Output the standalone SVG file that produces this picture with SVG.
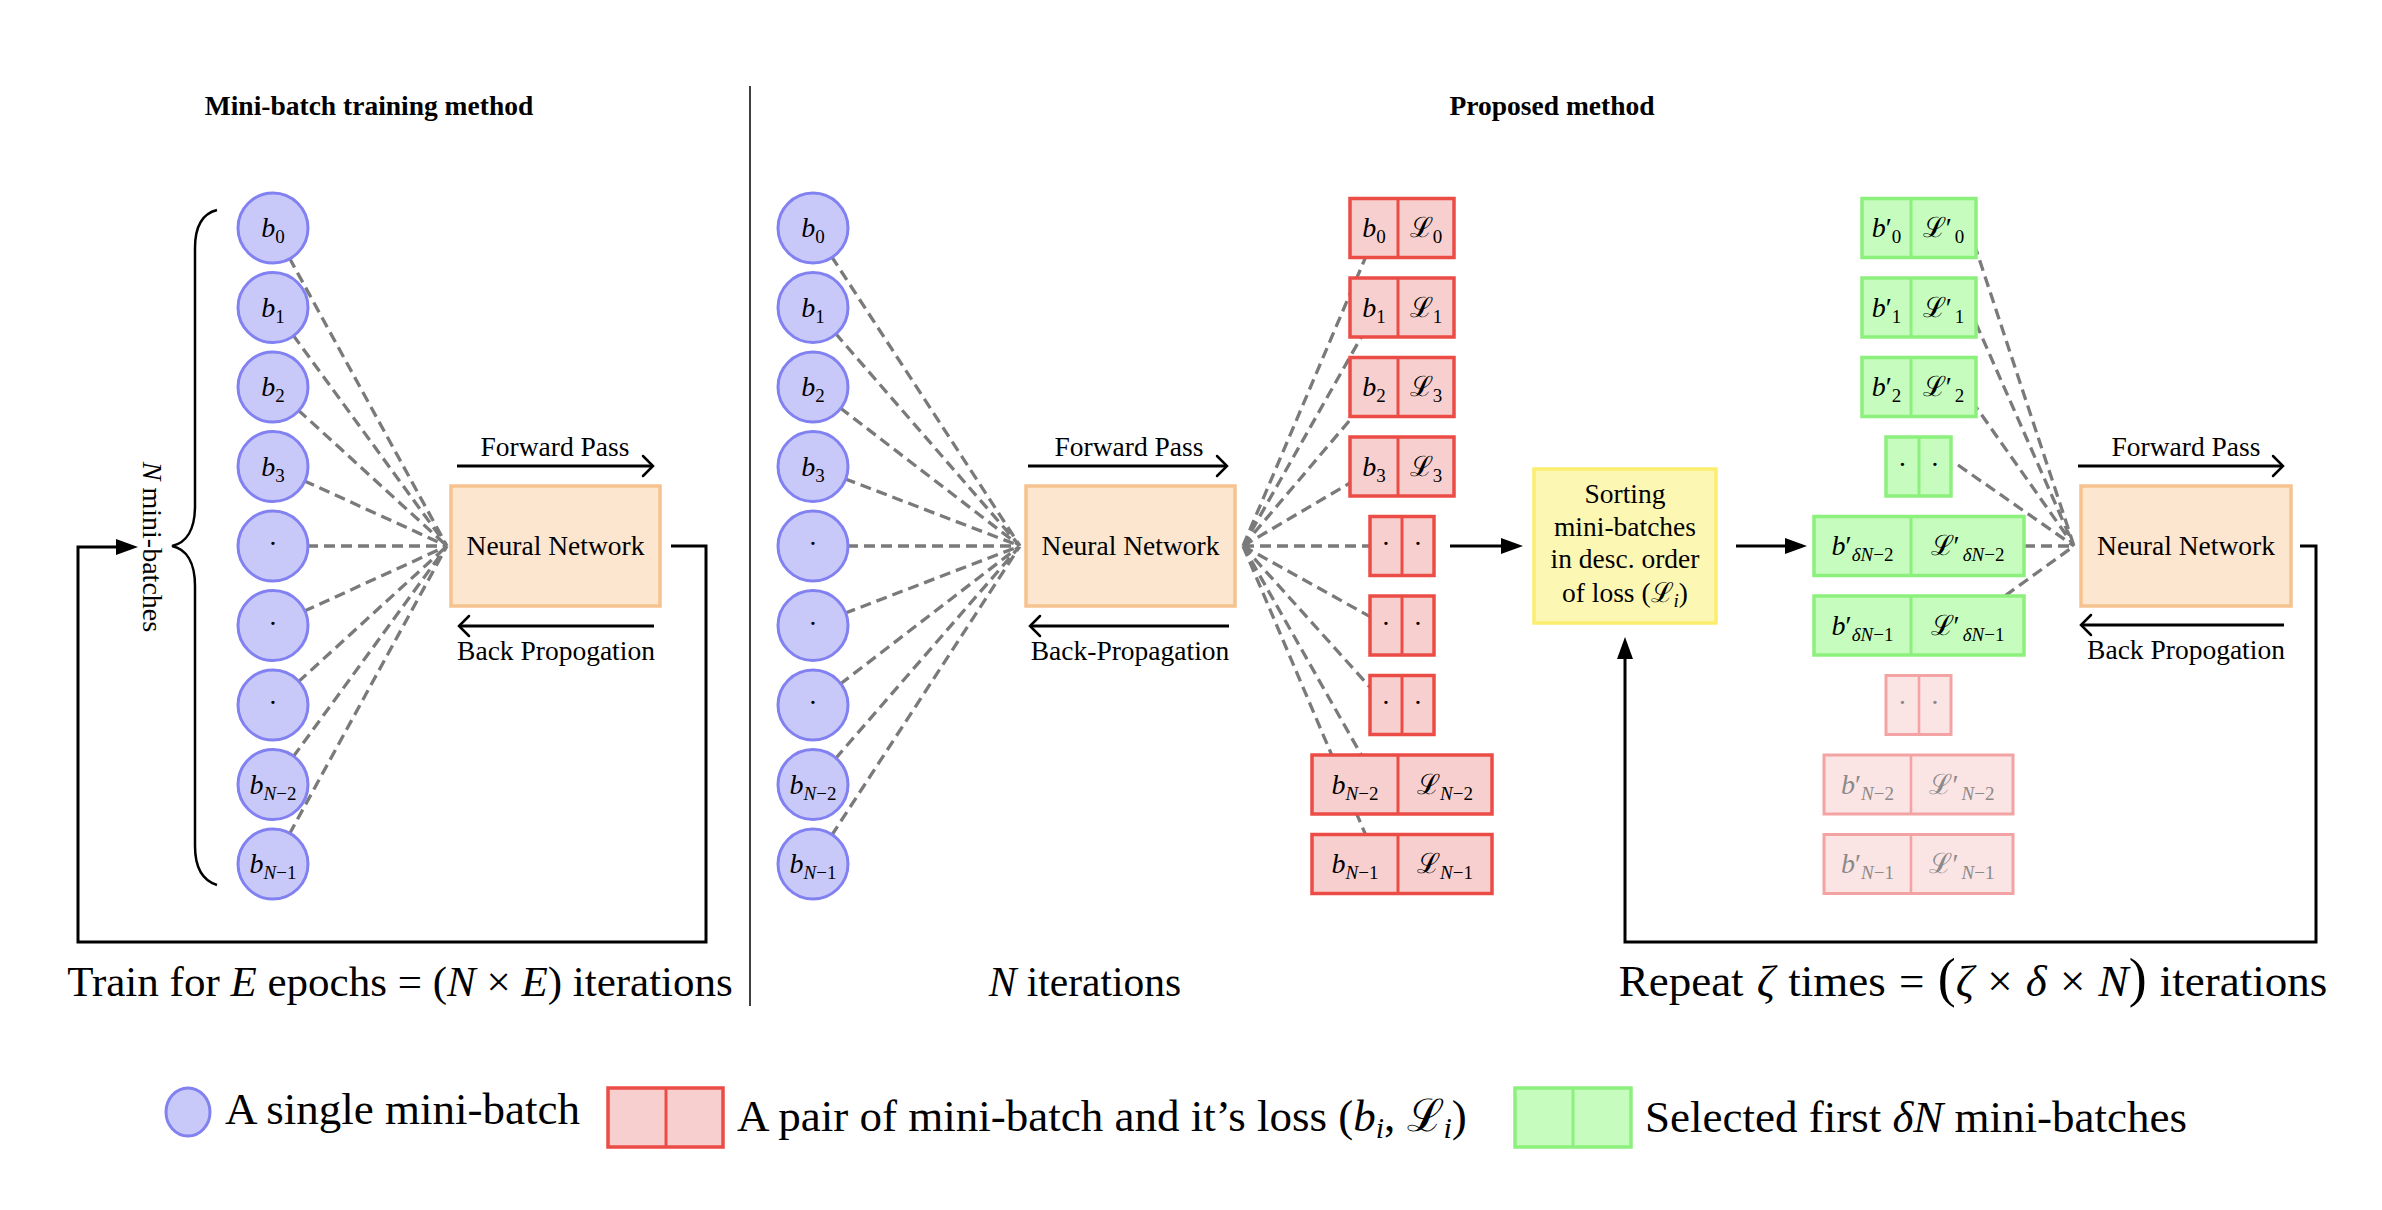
<svg xmlns="http://www.w3.org/2000/svg" width="2382" height="1210" viewBox="0 0 2382 1210">
<style>
.t{font-family:"Liberation Serif","DejaVu Serif",serif;fill:#000}
.lab{font-size:27.5px;text-anchor:middle}
.cl{font-size:28px;text-anchor:middle}
.sb{font-size:19px}
.i{font-style:italic}
.ttl{font-size:27.5px;font-weight:bold;text-anchor:middle}
.big{font-size:43px}
.lg{font-size:45px}
.mb{fill:#c9c9f9;stroke:#8181f1;stroke-width:3}
.nn{fill:#fce6d0;stroke:#f6c28e;stroke-width:3.5}
.rd{fill:#f7cfcf;stroke:#ec4c46;stroke-width:3.5}
.rdl{stroke:#ec4c46;stroke-width:3}
.gr{fill:#c6fcbd;stroke:#8cf07c;stroke-width:3.5}
.grl{stroke:#8cf07c;stroke-width:3}
.fr{fill:#fbe4e4;stroke:#f3a3a3;stroke-width:3}
.frl{stroke:#f3a3a3;stroke-width:2.5}
.ft{fill:#8a8a8a}
.yl{fill:#fdf7b4;stroke:#fbee6e;stroke-width:3.5}
.dash{stroke:#7a7a7a;stroke-width:3.3;stroke-dasharray:11 6;fill:none}
.ln{stroke:#000;stroke-width:3;fill:none}
</style>
<defs>
<marker id="to" markerUnits="userSpaceOnUse" viewBox="-13 -13 16 26" refX="0" refY="0" markerWidth="16" markerHeight="26" orient="auto" overflow="visible"><path d="M-10,-10 Q-3,-3 0,0 Q-3,3 -10,10" stroke="#000" stroke-width="2.5" fill="none" stroke-linecap="round"/></marker>
<marker id="lx" markerUnits="userSpaceOnUse" viewBox="-12 -9 24 18" refX="-12" refY="0" markerWidth="24" markerHeight="18" orient="auto" overflow="visible"><path d="M-12,-8 L10,0 L-12,8 Z" fill="#000"/></marker>
</defs>

<!-- titles & divider -->
<text class="t ttl" x="369" y="115">Mini-batch training method</text>
<text class="t ttl" x="1552" y="115">Proposed method</text>
<line x1="750" y1="86" x2="750" y2="1006" stroke="#000" stroke-width="1.5"/>

<g id="connectors">
  <!-- left fan -->
  <path class="dash" d="M273,228 L447,546 M273,307.5 L447,546 M273,387 L447,546 M273,466.5 L447,546 M273,546 L447,546 M273,625.5 L447,546 M273,705 L447,546 M273,784.5 L447,546 M273,864 L447,546"/>
  <!-- middle left fan -->
  <path class="dash" d="M813,228 L1020,546 M813,307.5 L1020,546 M813,387 L1020,546 M813,466.5 L1020,546 M813,546 L1020,546 M813,625.5 L1020,546 M813,705 L1020,546 M813,784.5 L1020,546 M813,864 L1020,546"/>
  <!-- middle right fan -->
  <path class="dash" d="M1243,546 L1378,228 M1243,546 L1378,307.5 M1243,546 L1378,387 M1243,546 L1378,466.5 M1243,546 L1386,546 M1243,546 L1386,625.5 M1243,546 L1386,705 M1243,546 L1378,784.5 M1243,546 L1378,864"/>
  <!-- green fan -->
  <path class="dash" d="M1969,228 L2074,546 M1969,307.5 L2074,546 M1962,387 L2074,546 M1958,465 L2074,546 M2024,546 L2074,546 M1964,625.5 L2074,546"/>
  <!-- forward / back arrows -->
  <path class="ln" d="M457,466 H653" marker-end="url(#to)"/>
  <path class="ln" d="M654,626 H459" marker-end="url(#to)"/>
  <path class="ln" d="M1028,466 H1227" marker-end="url(#to)"/>
  <path class="ln" d="M1229,626 H1030" marker-end="url(#to)"/>
  <path class="ln" d="M2078,466 H2283" marker-end="url(#to)"/>
  <path class="ln" d="M2284,625 H2081" marker-end="url(#to)"/>
  <!-- loops and flow arrows -->
  <path class="ln" d="M671,546 H706 V942 H78 V547 H116" marker-end="url(#lx)"/>
  <path class="ln" d="M1450,546 H1501" marker-end="url(#lx)"/>
  <path class="ln" d="M1736,546 H1785" marker-end="url(#lx)"/>
  <path class="ln" d="M2300,546 H2316 V942 H1625 V659" marker-end="url(#lx)"/>
</g>

<!-- brace -->
<g id="brace">
  <path d="M217,210 C201,214 195,228 195,248 L195,506 C195,530 186,543 172,546 C186,549 195,562 195,586 L195,846 C195,866 201,880 217,885" stroke="#000" stroke-width="2.5" fill="none"/>
  <text class="t" font-size="28" text-anchor="middle" transform="translate(152,547) rotate(90)" y="9"><tspan class="i">N</tspan> mini-batches</text>
</g>

<!-- left circles -->
<g id="L0"><circle class="mb" cx="273" cy="228" r="35"/><text class="t cl" x="273" y="237"><tspan class="i">b</tspan><tspan class="sb" dy="6">0</tspan></text></g>
<g id="L1"><circle class="mb" cx="273" cy="307.5" r="35"/><text class="t cl" x="273" y="316.5"><tspan class="i">b</tspan><tspan class="sb" dy="6">1</tspan></text></g>
<g id="L2"><circle class="mb" cx="273" cy="387" r="35"/><text class="t cl" x="273" y="396"><tspan class="i">b</tspan><tspan class="sb" dy="6">2</tspan></text></g>
<g id="L3"><circle class="mb" cx="273" cy="466.5" r="35"/><text class="t cl" x="273" y="475.5"><tspan class="i">b</tspan><tspan class="sb" dy="6">3</tspan></text></g>
<g id="L4"><circle class="mb" cx="273" cy="546" r="35"/><text class="t cl" x="273" y="553">·</text></g>
<g id="L5"><circle class="mb" cx="273" cy="625.5" r="35"/><text class="t cl" x="273" y="632.5">·</text></g>
<g id="L6"><circle class="mb" cx="273" cy="705" r="35"/><text class="t cl" x="273" y="712">·</text></g>
<g id="L7"><circle class="mb" cx="273" cy="784.5" r="35"/><text class="t cl" x="273" y="793.5"><tspan class="i">b</tspan><tspan class="sb" dy="6"><tspan class="i">N</tspan>−2</tspan></text></g>
<g id="L8"><circle class="mb" cx="273" cy="864" r="35"/><text class="t cl" x="273" y="873"><tspan class="i">b</tspan><tspan class="sb" dy="6"><tspan class="i">N</tspan>−1</tspan></text></g>

<!-- left NN -->
<g id="NN1">
  <rect class="nn" x="451" y="486" width="209" height="120"/>
  <text class="t lab" x="555.5" y="555">Neural Network</text>
  <text class="t lab" x="555" y="456">Forward Pass</text>
  <text class="t lab" x="556" y="660">Back Propogation</text>
</g>

<!-- middle circles -->
<g id="M0"><circle class="mb" cx="813" cy="228" r="35"/><text class="t cl" x="813" y="237"><tspan class="i">b</tspan><tspan class="sb" dy="6">0</tspan></text></g>
<g id="M1"><circle class="mb" cx="813" cy="307.5" r="35"/><text class="t cl" x="813" y="316.5"><tspan class="i">b</tspan><tspan class="sb" dy="6">1</tspan></text></g>
<g id="M2"><circle class="mb" cx="813" cy="387" r="35"/><text class="t cl" x="813" y="396"><tspan class="i">b</tspan><tspan class="sb" dy="6">2</tspan></text></g>
<g id="M3"><circle class="mb" cx="813" cy="466.5" r="35"/><text class="t cl" x="813" y="475.5"><tspan class="i">b</tspan><tspan class="sb" dy="6">3</tspan></text></g>
<g id="M4"><circle class="mb" cx="813" cy="546" r="35"/><text class="t cl" x="813" y="553">·</text></g>
<g id="M5"><circle class="mb" cx="813" cy="625.5" r="35"/><text class="t cl" x="813" y="632.5">·</text></g>
<g id="M6"><circle class="mb" cx="813" cy="705" r="35"/><text class="t cl" x="813" y="712">·</text></g>
<g id="M7"><circle class="mb" cx="813" cy="784.5" r="35"/><text class="t cl" x="813" y="793.5"><tspan class="i">b</tspan><tspan class="sb" dy="6"><tspan class="i">N</tspan>−2</tspan></text></g>
<g id="M8"><circle class="mb" cx="813" cy="864" r="35"/><text class="t cl" x="813" y="873"><tspan class="i">b</tspan><tspan class="sb" dy="6"><tspan class="i">N</tspan>−1</tspan></text></g>

<!-- middle NN -->
<g id="NN2">
  <rect class="nn" x="1026" y="486" width="209" height="120"/>
  <text class="t lab" x="1130.5" y="555">Neural Network</text>
  <text class="t lab" x="1129" y="456">Forward Pass</text>
  <text class="t lab" x="1130" y="660">Back-Propagation</text>
</g>

<!-- red pairs -->
<g id="R0"><rect class="rd" x="1350" y="198.5" width="104" height="59"/><line class="rdl" x1="1398" y1="198.5" x2="1398" y2="257.5"/>
  <text class="t cl" x="1374" y="237"><tspan class="i">b</tspan><tspan class="sb" dy="6">0</tspan></text><text class="t cl" x="1426" y="237">ℒ<tspan class="sb" dy="6">0</tspan></text></g>
<g id="R1"><rect class="rd" x="1350" y="278" width="104" height="59"/><line class="rdl" x1="1398" y1="278" x2="1398" y2="337"/>
  <text class="t cl" x="1374" y="316.5"><tspan class="i">b</tspan><tspan class="sb" dy="6">1</tspan></text><text class="t cl" x="1426" y="316.5">ℒ<tspan class="sb" dy="6">1</tspan></text></g>
<g id="R2"><rect class="rd" x="1350" y="357.5" width="104" height="59"/><line class="rdl" x1="1398" y1="357.5" x2="1398" y2="416.5"/>
  <text class="t cl" x="1374" y="396"><tspan class="i">b</tspan><tspan class="sb" dy="6">2</tspan></text><text class="t cl" x="1426" y="396">ℒ<tspan class="sb" dy="6">3</tspan></text></g>
<g id="R3"><rect class="rd" x="1350" y="437" width="104" height="59"/><line class="rdl" x1="1398" y1="437" x2="1398" y2="496"/>
  <text class="t cl" x="1374" y="475.5"><tspan class="i">b</tspan><tspan class="sb" dy="6">3</tspan></text><text class="t cl" x="1426" y="475.5">ℒ<tspan class="sb" dy="6">3</tspan></text></g>
<g id="R4"><rect class="rd" x="1370" y="516.5" width="64" height="59"/><line class="rdl" x1="1402" y1="516.5" x2="1402" y2="575.5"/>
  <text class="t cl" x="1386" y="553">·</text><text class="t cl" x="1418" y="553">·</text></g>
<g id="R5"><rect class="rd" x="1370" y="596" width="64" height="59"/><line class="rdl" x1="1402" y1="596" x2="1402" y2="655"/>
  <text class="t cl" x="1386" y="632.5">·</text><text class="t cl" x="1418" y="632.5">·</text></g>
<g id="R6"><rect class="rd" x="1370" y="675.5" width="64" height="59"/><line class="rdl" x1="1402" y1="675.5" x2="1402" y2="734.5"/>
  <text class="t cl" x="1386" y="712">·</text><text class="t cl" x="1418" y="712">·</text></g>
<g id="R7"><rect class="rd" x="1312" y="755" width="180" height="59"/><line class="rdl" x1="1398" y1="755" x2="1398" y2="814"/>
  <text class="t cl" x="1355" y="793.5"><tspan class="i">b</tspan><tspan class="sb" dy="6"><tspan class="i">N</tspan>−2</tspan></text><text class="t cl" x="1445" y="793.5">ℒ<tspan class="sb" dy="6"><tspan class="i">N</tspan>−2</tspan></text></g>
<g id="R8"><rect class="rd" x="1312" y="834.5" width="180" height="59"/><line class="rdl" x1="1398" y1="834.5" x2="1398" y2="893.5"/>
  <text class="t cl" x="1355" y="873"><tspan class="i">b</tspan><tspan class="sb" dy="6"><tspan class="i">N</tspan>−1</tspan></text><text class="t cl" x="1445" y="873">ℒ<tspan class="sb" dy="6"><tspan class="i">N</tspan>−1</tspan></text></g>

<!-- sorting box -->
<g id="sort">
  <rect class="yl" x="1534" y="469" width="182" height="154"/>
  <text class="t lab" x="1625" y="503">Sorting</text>
  <text class="t lab" x="1625" y="536">mini-batches</text>
  <text class="t lab" x="1625" y="568">in desc. order</text>
  <text class="t lab" x="1625" y="602">of loss (ℒ<tspan class="sb i" dy="5">i</tspan><tspan dy="-5">)</tspan></text>
</g>

<!-- green pairs -->
<g id="G0"><rect class="gr" x="1862" y="198.5" width="114" height="59"/><line class="grl" x1="1911" y1="198.5" x2="1911" y2="257.5"/>
  <text class="t cl" x="1886.5" y="237"><tspan class="i">b</tspan>′<tspan class="sb" dy="6">0</tspan></text><text class="t cl" x="1943.5" y="237">ℒ′<tspan class="sb" dx="3" dy="6">0</tspan></text></g>
<g id="G1"><rect class="gr" x="1862" y="278" width="114" height="59"/><line class="grl" x1="1911" y1="278" x2="1911" y2="337"/>
  <text class="t cl" x="1886.5" y="316.5"><tspan class="i">b</tspan>′<tspan class="sb" dy="6">1</tspan></text><text class="t cl" x="1943.5" y="316.5">ℒ′<tspan class="sb" dx="3" dy="6">1</tspan></text></g>
<g id="G2"><rect class="gr" x="1862" y="357.5" width="114" height="59"/><line class="grl" x1="1911" y1="357.5" x2="1911" y2="416.5"/>
  <text class="t cl" x="1886.5" y="396"><tspan class="i">b</tspan>′<tspan class="sb" dy="6">2</tspan></text><text class="t cl" x="1943.5" y="396">ℒ′<tspan class="sb" dx="3" dy="6">2</tspan></text></g>
<g id="G3"><rect class="gr" x="1886" y="437" width="65" height="59"/><line class="grl" x1="1919" y1="437" x2="1919" y2="496"/>
  <text class="t cl" x="1902.5" y="473.5">·</text><text class="t cl" x="1935" y="473.5">·</text></g>
<g id="G4"><rect class="gr" x="1814" y="516.5" width="210" height="59"/><line class="grl" x1="1911" y1="516.5" x2="1911" y2="575.5"/>
  <text class="t cl" x="1862.5" y="555"><tspan class="i">b</tspan>′<tspan class="sb" dy="6"><tspan class="i">δN</tspan>−2</tspan></text><text class="t cl" x="1967.5" y="555">ℒ′<tspan class="sb" dx="3" dy="6"><tspan class="i">δN</tspan>−2</tspan></text></g>
<g id="G5"><rect class="gr" x="1814" y="596" width="210" height="59"/><line class="grl" x1="1911" y1="596" x2="1911" y2="655"/>
  <text class="t cl" x="1862.5" y="634.5"><tspan class="i">b</tspan>′<tspan class="sb" dy="6"><tspan class="i">δN</tspan>−1</tspan></text><text class="t cl" x="1967.5" y="634.5">ℒ′<tspan class="sb" dx="3" dy="6"><tspan class="i">δN</tspan>−1</tspan></text></g>

<!-- faded pairs -->
<g id="F6"><rect class="fr" x="1886" y="675.5" width="65" height="59"/><line class="frl" x1="1919" y1="675.5" x2="1919" y2="734.5"/>
  <text class="t cl ft" x="1902.5" y="712">·</text><text class="t cl ft" x="1935" y="712">·</text></g>
<g id="F7"><rect class="fr" x="1824" y="755" width="189" height="59"/><line class="frl" x1="1911" y1="755" x2="1911" y2="814"/>
  <text class="t cl ft" x="1867.5" y="793.5"><tspan class="i">b</tspan>′<tspan class="sb" dy="6"><tspan class="i">N</tspan>−2</tspan></text><text class="t cl ft" x="1962" y="793.5">ℒ′<tspan class="sb" dx="3" dy="6"><tspan class="i">N</tspan>−2</tspan></text></g>
<g id="F8"><rect class="fr" x="1824" y="834.5" width="189" height="59"/><line class="frl" x1="1911" y1="834.5" x2="1911" y2="893.5"/>
  <text class="t cl ft" x="1867.5" y="873"><tspan class="i">b</tspan>′<tspan class="sb" dy="6"><tspan class="i">N</tspan>−1</tspan></text><text class="t cl ft" x="1962" y="873">ℒ′<tspan class="sb" dx="3" dy="6"><tspan class="i">N</tspan>−1</tspan></text></g>

<!-- right NN -->
<g id="NN3">
  <rect class="nn" x="2081" y="486" width="210" height="120"/>
  <text class="t lab" x="2186" y="555">Neural Network</text>
  <text class="t lab" x="2186" y="456">Forward Pass</text>
  <text class="t lab" x="2186" y="659">Back Propogation</text>
</g>

<!-- bottom captions -->
<text class="t big" x="400" y="996" text-anchor="middle">Train for <tspan class="i">E</tspan> epochs = (<tspan class="i">N</tspan> × <tspan class="i">E</tspan>) iterations</text>
<text class="t" font-size="41.5" x="1085" y="996" text-anchor="middle"><tspan class="i">N</tspan> iterations</text>
<text class="t" font-size="45" x="1973" y="996" text-anchor="middle" word-spacing="2">Repeat <tspan class="i">ζ</tspan> times = <tspan font-size="54">(</tspan><tspan class="i">ζ</tspan> × <tspan class="i">δ</tspan> × <tspan class="i">N</tspan><tspan font-size="54">)</tspan> iterations</text>

<!-- legend -->
<g id="legend">
  <ellipse class="mb" cx="188" cy="1112" rx="22" ry="24"/>
  <text class="t lg" x="225" y="1124">A single mini-batch</text>
  <rect class="rd" x="608" y="1088" width="115" height="59"/><line class="rdl" x1="666" y1="1088" x2="666" y2="1147"/>
  <text class="t lg" x="737" y="1131">A pair of mini-batch and it’s loss (<tspan class="i">b</tspan><tspan font-size="30" class="i" dy="7">i</tspan><tspan dy="-7">, ℒ</tspan><tspan font-size="30" class="i" dy="7">i</tspan><tspan dy="-7">)</tspan></text>
  <rect class="gr" x="1515" y="1088" width="116" height="59"/><line class="grl" x1="1573" y1="1088" x2="1573" y2="1147"/>
  <text class="t lg" x="1645" y="1132">Selected first <tspan class="i">δN</tspan> mini-batches</text>
</g>
</svg>
